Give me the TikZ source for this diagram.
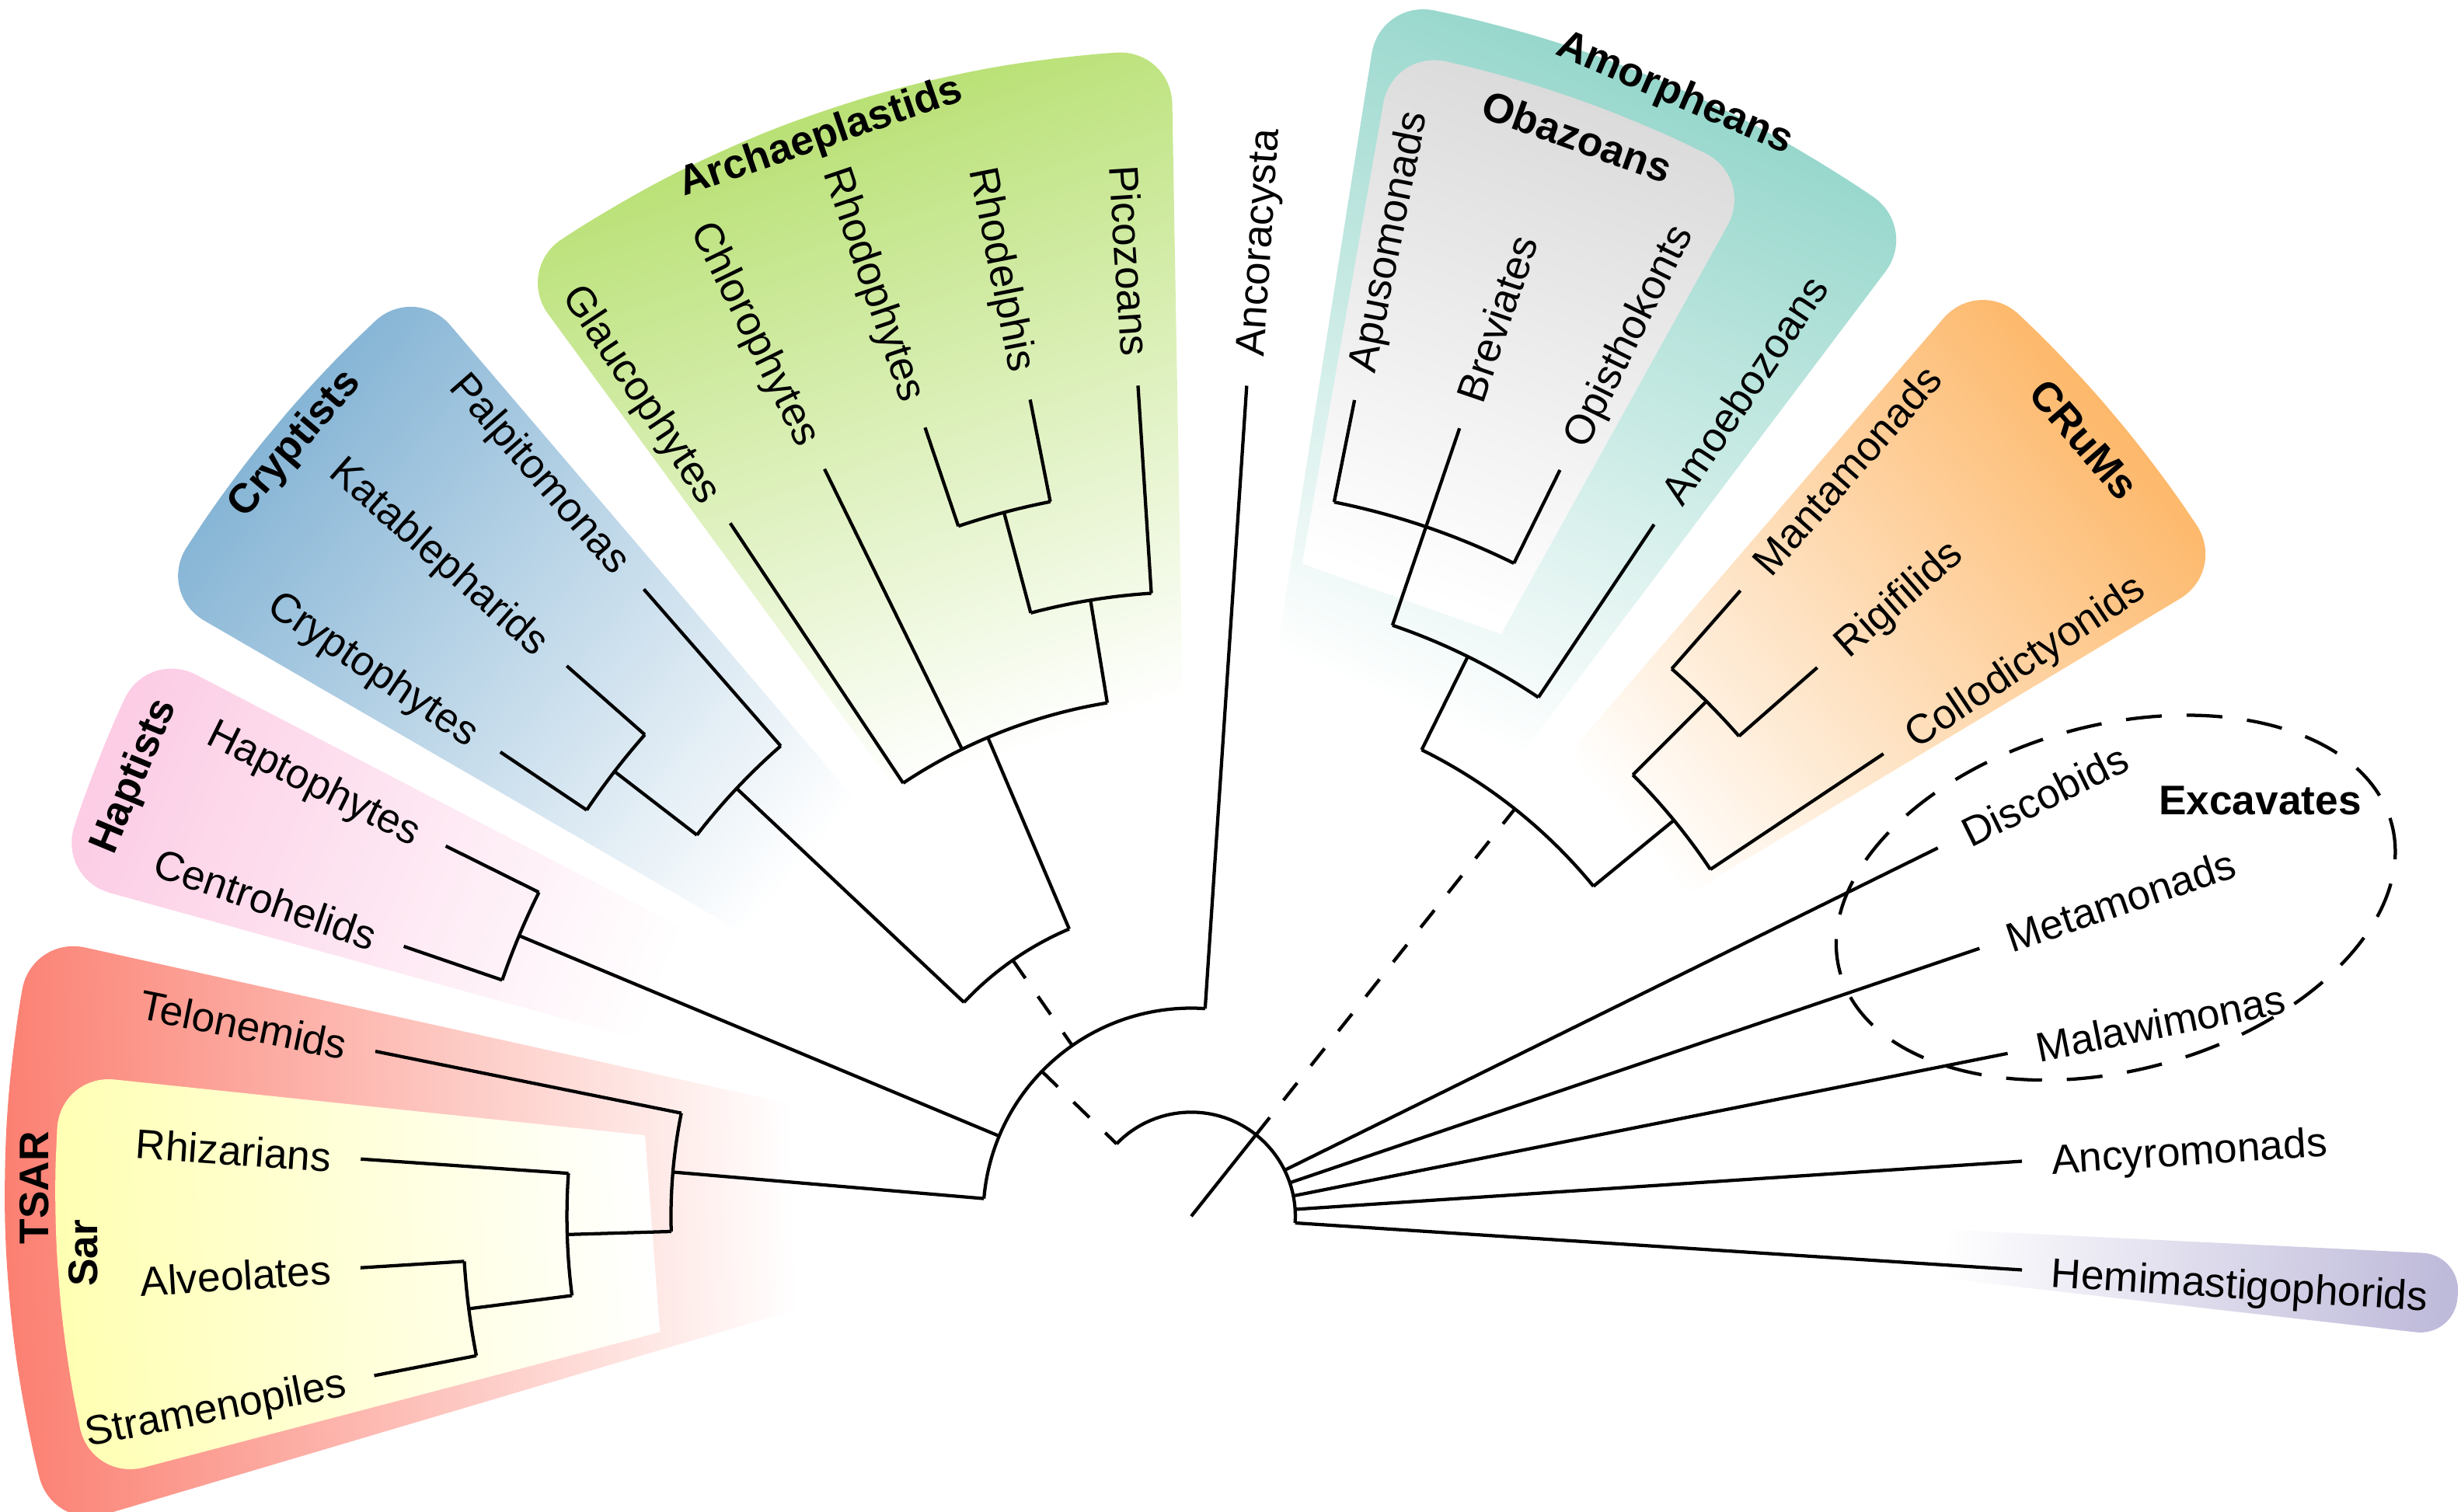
\documentclass[tikz,border=0pt]{standalone}
\usepackage{fontspec}
\setmainfont{Liberation Sans}

% Set3 colours of the clade backgrounds
\definecolor{tsarC}{HTML}{FB8072}
\definecolor{sarC}{HTML}{FFFFB3}
\definecolor{haptC}{HTML}{FCCDE5}
\definecolor{cryptC}{HTML}{80B1D3}
\definecolor{archC}{HTML}{B3DE69}
\definecolor{amorC}{HTML}{8DD3C7}
\definecolor{obazC}{HTML}{D9D9D9}
\definecolor{crumC}{HTML}{FDB462}
\definecolor{hemiC}{HTML}{BEBADA}

\tikzset{
  branch/.style={line width=1.2pt},
  uncertain/.style={line width=1.2pt, dash pattern=on 8pt off 8pt},
  excav/.style={line width=1.2pt, dash pattern=on 13pt off 9pt},
  leaf/.style={font=\fontsize{15}{18}\selectfont, inner sep=0pt, text height=10.8pt, text depth=0pt},
  clade/.style={font=\fontsize{15}{18}\selectfont\bfseries, inner sep=0pt},
}

% faded clade background: angles #2..#3, radii #4..#5, colour #6
\newcommand{\cladebg}[6][20pt]{%
  \pgfmathsetmacro\shang{-((#2)+(#3))/2-90}%
  \pgfmathtruncatemacro\nseg{max(1,round(((#3)-(#2))/6))}%
  \shade[top color=#6, bottom color=white, shading angle=\shang]
    (#2:#4) [rounded corners=#1] \foreach \sx in {0,...,\nseg}{ -- ({(#2)+((#3)-(#2))*\sx/\nseg}:#5) }
    [sharp corners] -- (#3:#4) -- cycle;
}

\begin{document}
\begin{tikzpicture}[x=0.02cm, y=-0.02cm]
  \useasboundingbox (0,0) rectangle (1568,963);

  % Backgrounds
  \begin{scope}[shift={(759,760)}]
    \cladebg{-196.5}{-167.5}{260}{757}{tsarC}
    \cladebg{-194.7}{-174}{350}{725}{sarC}
    \cladebg{-164.5}{-152.5}{330}{750}{haptC}
    \cladebg{-149.9}{-130.5}{280}{762}{cryptC}
    \cladebg{-126.2}{-91}{310}{729}{archC}
    \cladebg{-81}{-53}{330}{770}{amorC}
    \cladebg{-80}{-61}{407}{740}{obazC}
    \cladebg{-49.3}{-31}{330}{770}{crumC}
    \cladebg[14pt]{2.8}{6.5}{470}{810}{hemiC}
  \end{scope}

  % Excavates
  \begin{scope}[shift={(1348,572)}, rotate=15]
    \draw[excav] (0,0) circle[x radius=182, y radius=110];
  \end{scope}
  \node[clade] (excavates) at (1440,510) {Excavates};

  % Tree, root at the origin, one level = 66.3
  \begin{scope}[shift={(759,775)}]
    % Leaves: index/name/label/radius of parent
    \foreach \k/\n/\lab/\rp in {
        0/hemi/Hemimastigophorids/66.3, 1/ancy/Ancyromonads/66.3,
        2/mala/Malawimonas/66.3, 3/meta/Metamonads/66.3, 4/disc/Discobids/66.3,
        5/coll/Collodictyonids/397.8, 6/rigi/Rigifilids/464.1, 7/mant/Mantamonads/464.1,
        8/amoe/Amoebozoans/397.8, 9/opis/Opisthokonts/464.1, 10/brev/Breviates/397.8,
        11/apus/Apusomonads/464.1, 12/anco/Ancoracysta/132.6, 13/pico/Picozoans/397.8,
        14/rhdl/Rhodelphis/464.1, 15/rhdp/Rhodophytes/464.1, 16/chlo/Chlorophytes/331.5,
        17/glau/Glaucophytes/331.5, 18/palp/Palpitomonas/397.8, 19/kata/Katablepharids/464.1,
        20/cryp/Cryptophytes/464.1, 21/hapt/Haptophytes/464.1, 22/cent/Centrohelids/464.1,
        23/telo/Telonemids/331.5, 24/rhiz/Rhizarians/397.8, 25/alve/Alveolates/464.1,
        26/stra/Stramenopiles/464.1}{
      \pgfmathsetmacro\a{3.7-7.49*\k}
      \coordinate (\n-b) at (\a:\rp);
      \coordinate (\n) at (\a:530.4);
      \draw[branch] (\n-b) -- (\n);
      \ifdim\a pt>-90pt
        \pgfmathsetmacro\rot{0-(\a)}
        \node[leaf, anchor=west, rotate=\rot] (l-\n) at (\a:549) {\lab};
      \else
        \pgfmathsetmacro\rot{0-(\a)-180}
        \node[leaf, anchor=east, rotate=\rot] (l-\n) at (\a:549) {\lab};
      \fi
    }

    % TSAR
    \draw[branch] (-191.04:464.1) arc[start angle=-191.04, end angle=-183.55, radius=464.1];
    \draw[branch] (-187.3:397.8) -- (-187.3:464.1);
    \draw[branch] (-187.3:397.8) arc[start angle=-187.3, end angle=-176.06, radius=397.8];
    \draw[branch] (-181.68:331.5) -- (-181.68:397.8);
    \draw[branch] (-181.68:331.5) arc[start angle=-181.68, end angle=-168.57, radius=331.5];
    \draw[branch] (-175.13:132.6) -- (-175.13:331.5);

    % Haptists
    \draw[branch] (-161.08:464.1) arc[start angle=-161.08, end angle=-153.59, radius=464.1];
    \draw[branch] (-157.34:132.6) -- (-157.34:464.1);

    % Cryptists
    \draw[branch] (-146.1:464.1) arc[start angle=-146.1, end angle=-138.61, radius=464.1];
    \draw[branch] (-142.36:397.8) -- (-142.36:464.1);
    \draw[branch] (-142.36:397.8) arc[start angle=-142.36, end angle=-131.12, radius=397.8];
    \draw[branch] (-136.74:198.9) -- (-136.74:397.8);

    % Archaeplastids
    \draw[branch] (-108.65:464.1) arc[start angle=-108.65, end angle=-101.16, radius=464.1];
    \draw[branch] (-104.9:397.8) -- (-104.9:464.1);
    \draw[branch] (-104.9:397.8) arc[start angle=-104.9, end angle=-93.67, radius=397.8];
    \draw[branch] (-99.29:331.5) -- (-99.29:397.8);
    \draw[branch] (-123.63:331.5) arc[start angle=-123.63, end angle=-99.29, radius=331.5];
    \draw[branch] (-113.02:198.9) -- (-113.02:331.5);

    % Cryptists + Archaeplastids, then the deep nodes
    \draw[branch] (-136.74:198.9) arc[start angle=-136.74, end angle=-113.02, radius=198.9];
    \draw[uncertain] (-124.88:198.9) -- (-124.88:132.6);
    \draw[branch] (-175.13:132.6) arc[start angle=-175.13, end angle=-86.18, radius=132.6];
    \draw[uncertain] (-135.88:132.6) -- (-135.88:66.3);
    \draw[branch] (-135.88:66.3) arc[start angle=-135.88, end angle=3.7, radius=66.3];

    % Amorpheans
    \draw[branch] (-78.69:464.1) arc[start angle=-78.69, end angle=-63.71, radius=464.1];
    \draw[branch] (-71.2:397.8) arc[start angle=-71.2, end angle=-56.22, radius=397.8];
    \draw[branch] (-63.71:331.5) -- (-63.71:397.8);

    % CRuMs
    \draw[branch] (-48.73:464.1) arc[start angle=-48.73, end angle=-41.24, radius=464.1];
    \draw[branch] (-44.99:397.8) -- (-44.99:464.1);
    \draw[branch] (-44.99:397.8) arc[start angle=-44.99, end angle=-33.75, radius=397.8];
    \draw[branch] (-39.37:331.5) -- (-39.37:397.8);

    % Amorpheans + CRuMs and the root
    \draw[branch] (-63.71:331.5) arc[start angle=-63.71, end angle=-39.37, radius=331.5];
    \coordinate (root) at (0,0);
    \coordinate (rootcut) at (-51.54:66.3);
    \draw[branch] (root) -- (rootcut);
    \draw[uncertain] (rootcut) -- (-51.54:331.5);

    % Clade names
    \node[clade, rotate=90] (tsar) at (-178.6:737.6) {TSAR};
    \node[clade, rotate=90] (sar) at (-181.9:706.4) {Sar};
    \node[clade, rotate=67.4] (haptists) at (-157.4:729) {Haptists};
    \node[clade, rotate=49.3] (cryptists) at (-139.25:753.7) {Cryptists};
    \node[clade, rotate=19] (archaeplastids) at (-108.96:726.4) {Archaeplastids};
    \node[clade, rotate=-19.7] (obazoans) at (-70.33:730.7) {Obazoans};
    \node[clade, rotate=-23.3] (amorpheans) at (-66.7:778.5) {Amorpheans};
    \node[clade, rotate=-49] (crums) at (-41.02:754) {CRuMs};
  \end{scope}
\end{tikzpicture}
\end{document}
